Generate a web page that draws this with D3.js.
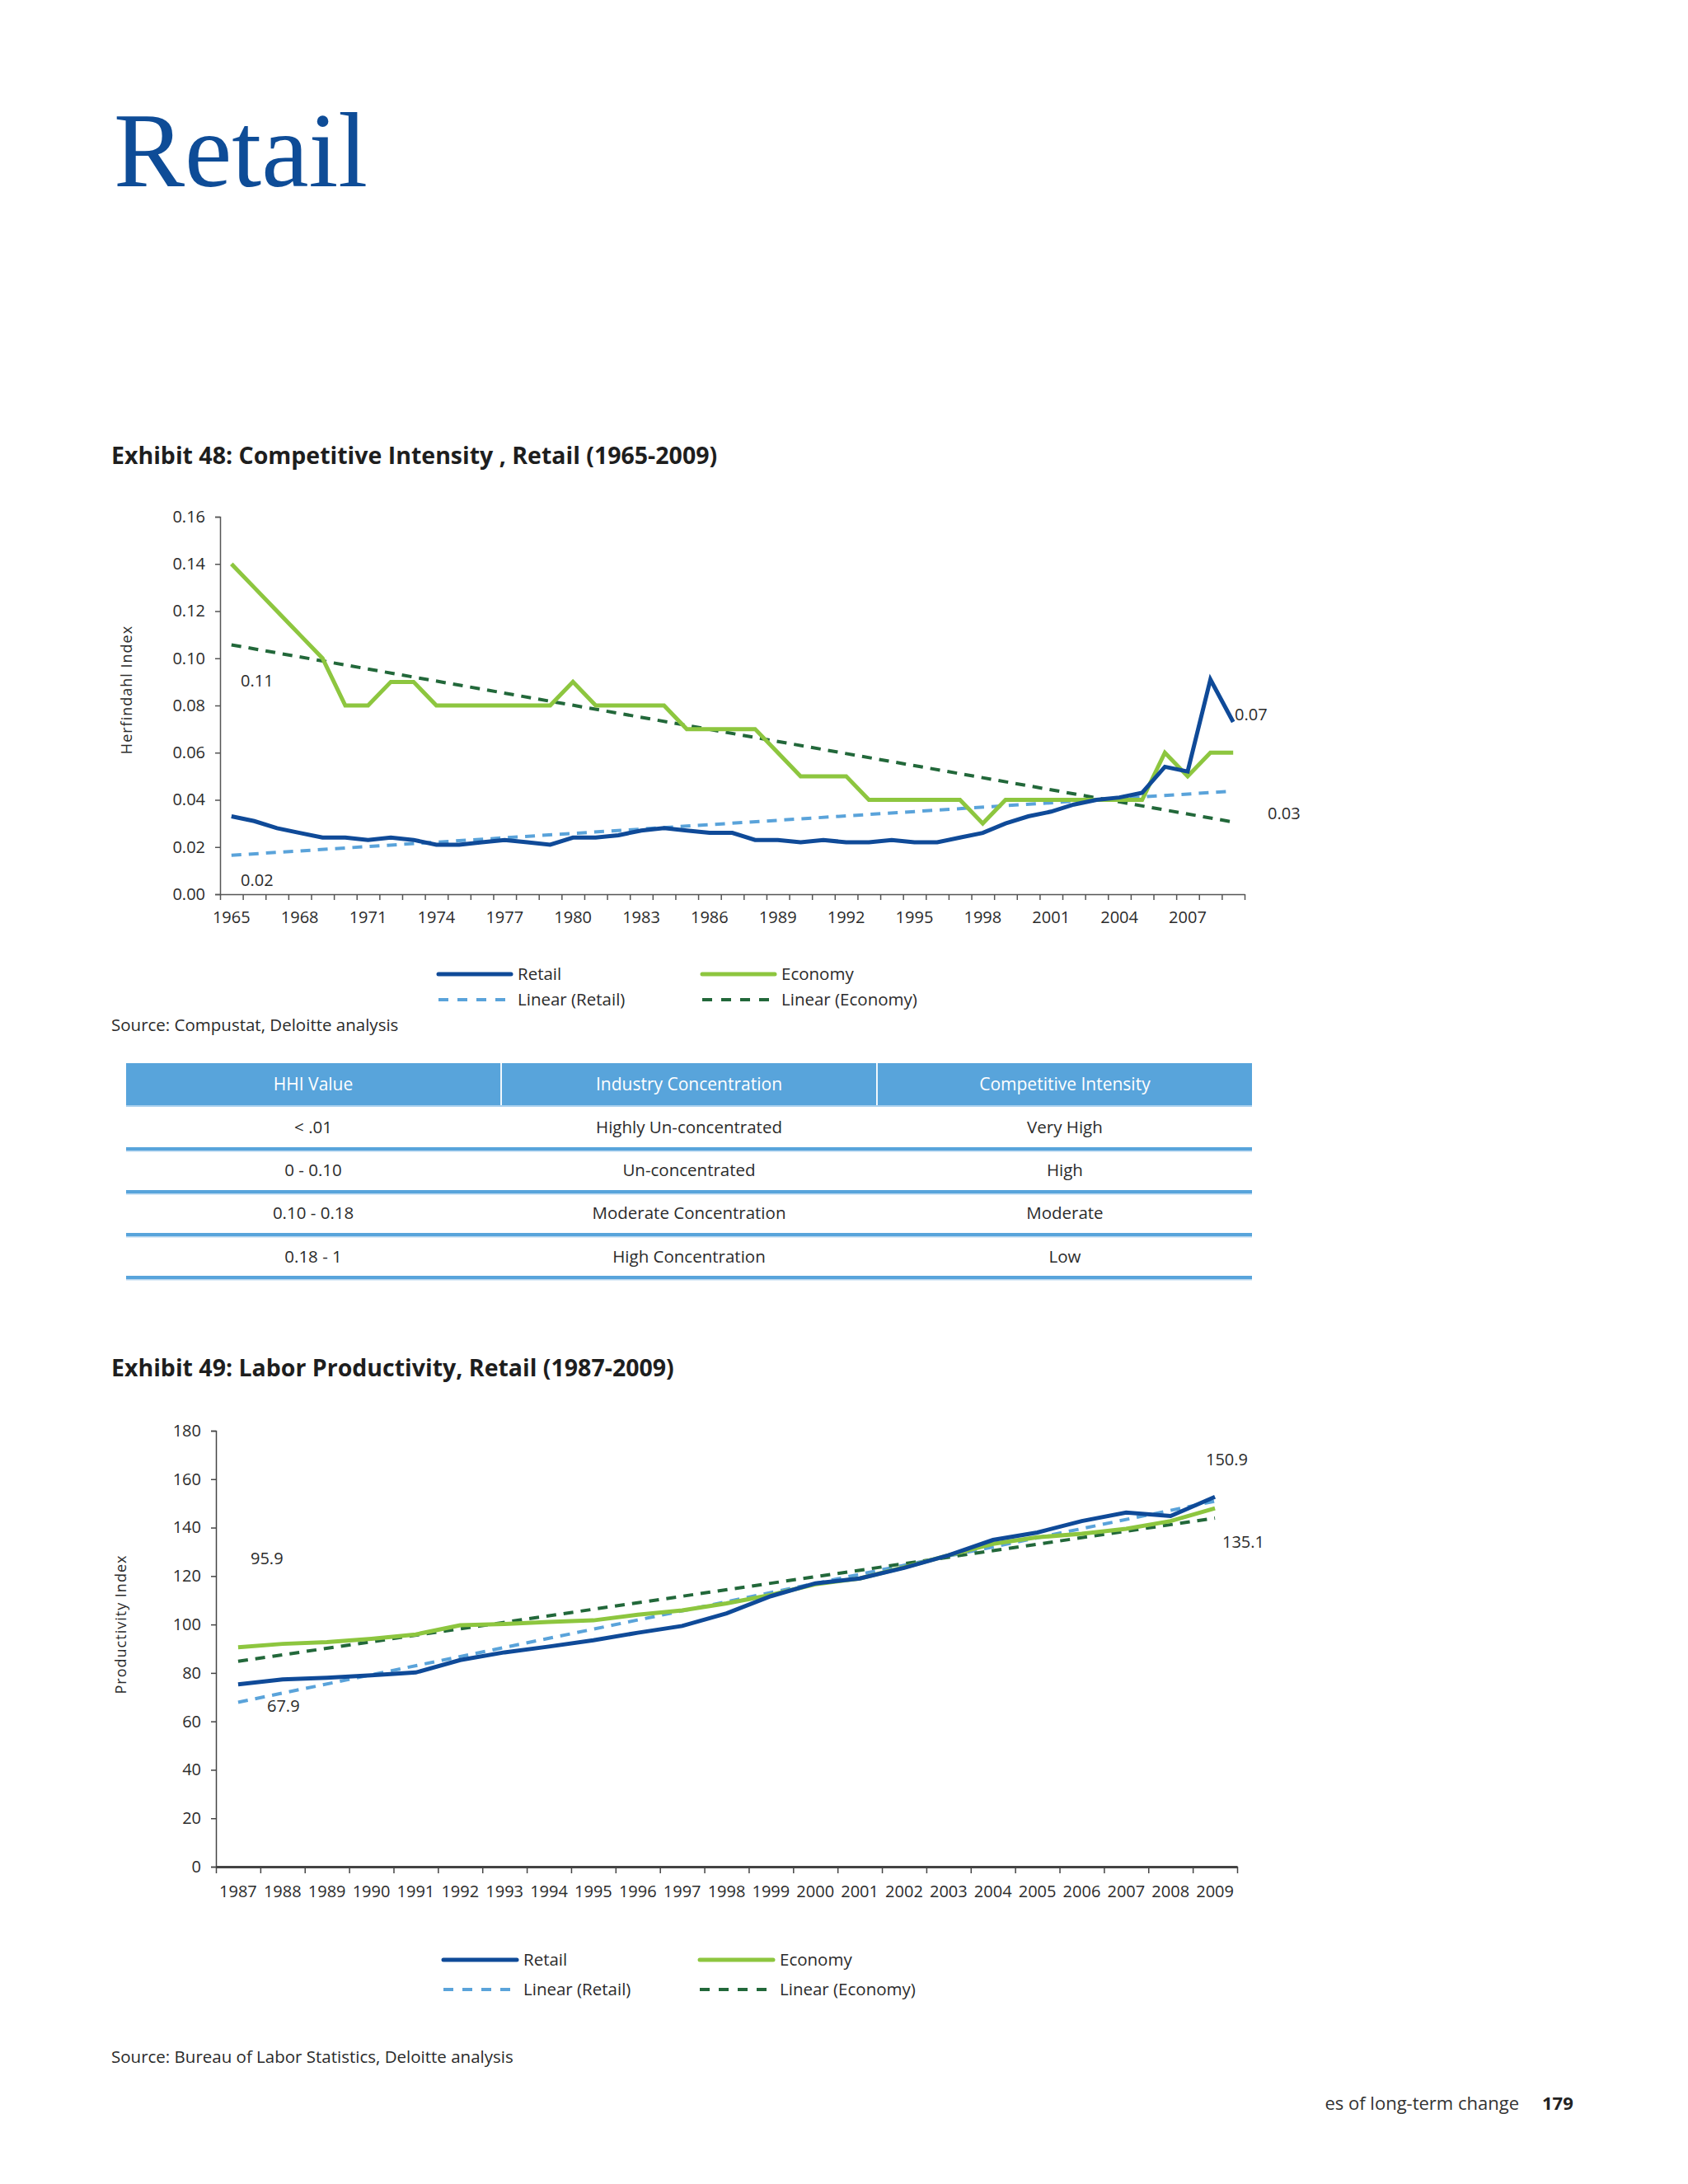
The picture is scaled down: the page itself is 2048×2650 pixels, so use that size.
<!DOCTYPE html>
<html>
<head>
<meta charset="utf-8">
<script src="https://cdn.jsdelivr.net/npm/d3@7"></script>
<style>
  body { margin: 0; background: #fff; }
  svg text { font-family: "Open Sans", "Noto Sans", sans-serif; }
</style>
</head>
<body>
<div id="page"></div>
<script>
// Exhibit 48 data
const years48 = d3.range(1965, 2010);
const retail48 = [0.033, 0.031, 0.028, 0.026, 0.024, 0.024, 0.023, 0.024, 0.023, 0.021,
                  0.021, 0.022, 0.023, 0.022, 0.021, 0.024, 0.024, 0.025, 0.027, 0.028,
                  0.027, 0.026, 0.026, 0.023, 0.023, 0.022, 0.023, 0.022, 0.022, 0.023,
                  0.022, 0.022, 0.024, 0.026, 0.030, 0.033, 0.035, 0.038, 0.040, 0.041,
                  0.043, 0.054, 0.052, 0.091, 0.073];
const economy48 = [0.14, 0.13, 0.12, 0.11, 0.10, 0.08, 0.08, 0.09, 0.09, 0.08,
                   0.08, 0.08, 0.08, 0.08, 0.08, 0.09, 0.08, 0.08, 0.08, 0.08,
                   0.07, 0.07, 0.07, 0.07, 0.06, 0.05, 0.05, 0.05, 0.04, 0.04,
                   0.04, 0.04, 0.04, 0.03, 0.04, 0.04, 0.04, 0.04, 0.04, 0.04,
                   0.04, 0.06, 0.05, 0.06, 0.06];
const retailTrend48 = [0.0165, 0.0437];   // first / last year
const economyTrend48 = [0.1057, 0.0306];
const yTicks48 = [0, 0.02, 0.04, 0.06, 0.08, 0.10, 0.12, 0.14, 0.16];
const xLabels48 = d3.range(1965, 2010, 3);

// Exhibit 49 data
const years49 = d3.range(1987, 2010);
const retail49 = [75.3, 77.3, 78.0, 79.0, 80.2, 85.3, 88.5, 90.9, 93.5, 96.6, 99.4, 104.6,
                  111.7, 117.0, 119.0, 123.4, 128.6, 134.9, 138.0, 142.7, 146.2, 144.8, 152.7];
const economy49 = [90.6, 92.0, 92.7, 94.1, 95.9, 99.7, 100.2, 101.1, 101.7, 104.0, 105.8, 108.7,
                   112.2, 116.6, 119.0, 123.6, 128.6, 133.3, 136.0, 137.5, 139.5, 142.7, 148.0];
const retailTrend49 = [67.9, 150.9];
const economyTrend49 = [84.8, 143.9];
const yTicks49 = d3.range(0, 181, 20);

// HHI table
const tableHeader = ["HHI Value", "Industry Concentration", "Competitive Intensity"];
const tableRows = [
    ["< .01", "Highly Un-concentrated", "Very High"],
    ["0 - 0.10", "Un-concentrated", "High"],
    ["0.10 - 0.18", "Moderate Concentration", "Moderate"],
    ["0.18 - 1", "High Concentration", "Low"]
];

const C = {
    retail: "#0f4a98",
    economy: "#8dc63f",
    retailTrend: "#5aa3da",
    economyTrend: "#22683a",
    text: "#2b2b2b",
    header: "#58a4db"
};

const svg = d3.select("#page").append("svg")
    .attr("width", 2048)
    .attr("height", 2650);

svg.append("rect").attr("width", 2048).attr("height", 2650).attr("fill", "#fff");

// page title
svg.append("text")
    .attr("x", 138).attr("y", 226)
    .style("font-family", "'Liberation Serif', serif")
    .style("font-size", "129px")
    .attr("fill", "#0e4c97")
    .text("Retail");

function lineChart(cfg) {
    const x = d3.scaleBand().domain(cfg.years).range(cfg.xRange).padding(0);
    const xEdge = d3.scaleLinear()
        .domain([cfg.years[0], cfg.years[cfg.years.length - 1] + 1])
        .range(cfg.xRange);
    const y = d3.scaleLinear().domain(cfg.yDomain).range(cfg.yRange);
    const cx = yr => x(yr) + x.bandwidth() / 2;

    svg.append("text")
        .attr("x", 135).attr("y", cfg.titleY)
        .attr("fill", "#1e1e1e")
        .style("font-size", "28.5px")
        .style("font-weight", "700")
        .text(cfg.title);

    // y axis
    const yAxis = svg.append("g")
        .attr("transform", `translate(${cfg.xRange[0]},0)`)
        .call(d3.axisLeft(y).tickValues(cfg.yTicks).tickSize(6).tickPadding(12).tickFormat(cfg.yFormat));
    yAxis.select(".domain").attr("stroke", cfg.axisColor).attr("stroke-width", 1.5);
    yAxis.selectAll(".tick line").attr("stroke", cfg.axisColor).attr("stroke-width", 1.5);
    yAxis.selectAll(".tick text").attr("fill", C.text).style("font-size", "20px");

    // x axis: ticks between categories
    const xAxis = svg.append("g")
        .attr("transform", `translate(0,${cfg.yRange[0]})`)
        .call(d3.axisBottom(xEdge).tickValues(d3.range(cfg.years[0], cfg.years[cfg.years.length - 1] + 2))
            .tickSize(cfg.tickLen).tickSizeOuter(0).tickFormat(""));
    xAxis.select(".domain").attr("stroke", cfg.axisColor).attr("stroke-width", cfg.xAxisWidth);
    xAxis.selectAll(".tick line").attr("stroke", cfg.axisColor).attr("stroke-width", 1.5);

    const xLab = svg.append("g")
        .attr("transform", `translate(0,${cfg.yRange[0]})`)
        .call(d3.axisBottom(x).tickValues(cfg.xLabels).tickSize(0).tickPadding(cfg.labelPad));
    xLab.select(".domain").remove();
    xLab.selectAll(".tick text").attr("fill", C.text).style("font-size", cfg.xFont);

    // axis title
    svg.append("text")
        .attr("transform", `translate(${cfg.yTitleX},${cfg.yTitleY}) rotate(-90)`)
        .attr("text-anchor", "middle")
        .attr("dy", "0.35em")
        .attr("fill", C.text)
        .style("font-size", "18px")
        .style("letter-spacing", "1px")
        .text(cfg.yTitle);

    // trend lines
    const first = cfg.years[0], last = cfg.years[cfg.years.length - 1];
    [[cfg.retailTrend, C.retailTrend], [cfg.economyTrend, C.economyTrend]].forEach(([t, col]) => {
        svg.append("line")
            .attr("x1", cx(first)).attr("y1", y(t[0]))
            .attr("x2", cx(last)).attr("y2", y(t[1]))
            .attr("stroke", col)
            .attr("stroke-width", 4)
            .attr("stroke-dasharray", "12,9");
    });

    const line = d3.line().x((d, i) => cx(cfg.years[i])).y(d => y(d));
    svg.append("path").datum(cfg.economy)
        .attr("fill", "none").attr("stroke", C.economy).attr("stroke-width", 5)
        .attr("stroke-linejoin", "miter").attr("d", line);
    svg.append("path").datum(cfg.retail)
        .attr("fill", "none").attr("stroke", C.retail).attr("stroke-width", 5)
        .attr("stroke-linejoin", "miter").attr("d", line);

    // point labels
    cfg.notes.forEach(n => {
        svg.append("text")
            .attr("x", n.x).attr("y", n.y)
            .attr("dy", "0.35em")
            .attr("fill", C.text)
            .style("font-size", "20px")
            .text(n.t);
    });

    // legend
    const lg = cfg.legend;
    const items = [
        { label: "Retail", col: C.retail, dash: null, w: 5, x: lg.x1, y: lg.y1 },
        { label: "Economy", col: C.economy, dash: null, w: 5, x: lg.x2, y: lg.y1 },
        { label: "Linear (Retail)", col: C.retailTrend, dash: "12,11", w: 4, x: lg.x1, y: lg.y2 },
        { label: "Linear (Economy)", col: C.economyTrend, dash: "12,11", w: 4, x: lg.x2, y: lg.y2 }
    ];
    items.forEach(it => {
        svg.append("line")
            .attr("x1", it.x).attr("x2", it.x + lg.len)
            .attr("y1", it.y).attr("y2", it.y)
            .attr("stroke", it.col).attr("stroke-width", it.w)
            .attr("stroke-linecap", it.dash ? "butt" : "round")
            .attr("stroke-dasharray", it.dash);
        svg.append("text")
            .attr("x", it.x + lg.len + 8).attr("y", it.y)
            .attr("dy", "0.35em")
            .attr("fill", C.text)
            .style("font-size", "20.5px")
            .text(it.label);
    });

    svg.append("text")
        .attr("x", 135).attr("y", cfg.sourceY)
        .attr("dy", "0.35em")
        .attr("fill", C.text)
        .style("font-size", "20.5px")
        .text(cfg.source);
}

lineChart({
    title: "Exhibit 48: Competitive Intensity , Retail (1965-2009)",
    titleY: 563,
    years: years48, retail: retail48, economy: economy48,
    retailTrend: retailTrend48, economyTrend: economyTrend48,
    xRange: [267, 1510], yRange: [1085, 627], yDomain: [0, 0.16],
    yTicks: yTicks48, yFormat: d3.format(".2f"), xLabels: xLabels48,
    tickLen: 7, labelPad: 21, xFont: "20px", xAxisWidth: 1.5, axisColor: "#555",
    yTitle: "Herfindahl Index", yTitleX: 154, yTitleY: 837,
    notes: [
        { t: "0.11", x: 292, y: 826 },
        { t: "0.02", x: 292, y: 1068 },
        { t: "0.07", x: 1498, y: 867 },
        { t: "0.03", x: 1538, y: 987 }
    ],
    legend: { x1: 532, x2: 852, y1: 1182, y2: 1213, len: 88 },
    source: "Source: Compustat, Deloitte analysis", sourceY: 1244
});

lineChart({
    title: "Exhibit 49: Labor Productivity, Retail (1987-2009)",
    titleY: 1670,
    years: years49, retail: retail49, economy: economy49,
    retailTrend: retailTrend49, economyTrend: economyTrend49,
    xRange: [262, 1501], yRange: [2265, 1736], yDomain: [0, 180],
    yTicks: yTicks49, yFormat: d3.format("d"), xLabels: years49,
    tickLen: 8, labelPad: 23, xFont: "20px", xAxisWidth: 3, axisColor: "#444",
    yTitle: "Productivity Index", yTitleX: 147, yTitleY: 1971,
    notes: [
        { t: "95.9", x: 304, y: 1891 },
        { t: "67.9", x: 324, y: 2070 },
        { t: "150.9", x: 1463, y: 1771 },
        { t: "135.1", x: 1483, y: 1871 }
    ],
    legend: { x1: 538, x2: 849, y1: 2378, y2: 2414, len: 89 },
    source: "Source: Bureau of Labor Statistics, Deloitte analysis", sourceY: 2496
});

// HHI table
const colX = d3.scaleBand().domain(d3.range(3)).range([153, 1519]).paddingInner(0.004);
const rowY = [1368, 1420, 1472, 1525];
const lineY = [1394, 1446, 1498, 1550];

colX.domain().forEach(i => {
    svg.append("rect")
        .attr("x", colX(i)).attr("y", 1290)
        .attr("width", colX.bandwidth()).attr("height", 52)
        .attr("fill", C.header);
    svg.append("text")
        .attr("x", colX(i) + colX.bandwidth() / 2).attr("y", 1316)
        .attr("dy", "0.35em")
        .attr("text-anchor", "middle")
        .attr("fill", "#fff")
        .style("font-size", "21px")
        .text(tableHeader[i]);
});
svg.append("rect").attr("x", 153).attr("y", 1341).attr("width", 1366).attr("height", 2).attr("fill", "#a9d0ee");

tableRows.forEach((row, r) => {
    row.forEach((cell, i) => {
        svg.append("text")
            .attr("x", colX(i) + colX.bandwidth() / 2).attr("y", rowY[r])
            .attr("dy", "0.35em")
            .attr("text-anchor", "middle")
            .attr("fill", C.text)
            .style("font-size", "20.5px")
            .text(cell);
    });
    svg.append("rect")
        .attr("x", 153).attr("y", lineY[r] - 2)
        .attr("width", 1366).attr("height", 4)
        .attr("fill", C.header);
    svg.append("rect")
        .attr("x", 153).attr("y", lineY[r] + 2)
        .attr("width", 1366).attr("height", 1.5)
        .attr("fill", "#b5d6f0");
});

// footer
svg.append("text")
    .attr("x", 1843).attr("y", 2560)
    .attr("text-anchor", "end")
    .attr("fill", "#333")
    .style("font-size", "22px")
    .text("es of long-term change");
svg.append("text")
    .attr("x", 1871).attr("y", 2560)
    .attr("fill", "#222")
    .style("font-size", "22px")
    .style("font-weight", "700")
    .text("179");
</script>
</body>
</html>
